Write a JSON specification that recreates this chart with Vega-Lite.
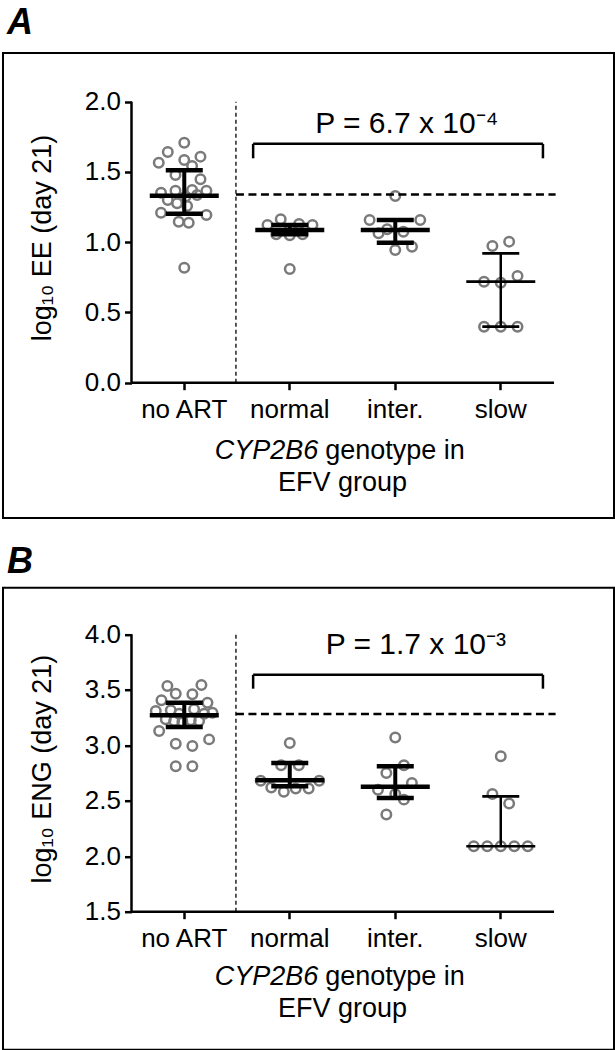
{
  "$schema": "https://vega.github.io/schema/vega-lite/v6.json",
  "padding": {"left": 2, "right": 2, "top": 3, "bottom": 1},
  "background": "white",
  "spacing": 23.7,
  "config": {
    "font": "Liberation Sans",
    "view": {"stroke": "black", "strokeWidth": 2},
    "axis": {"grid": false, "domain": false, "tickColor": "black", "tickWidth": 2.5, "tickSize": 7, "labelColor": "black", "labelFontSize": 26, "labelFont": "Liberation Sans"},
    "text": {"color": "black", "font": "Liberation Sans"}
  },
  "datasets": {
    "ptsA": [
      {"g": "no ART", "v": 1.708, "s": 0}, {"g": "no ART", "v": 1.642, "s": -1.22}, {"g": "no ART", "v": 1.609, "s": 1.2},
      {"g": "no ART", "v": 1.566, "s": -1.89}, {"g": "no ART", "v": 1.585, "s": 0}, {"g": "no ART", "v": 1.542, "s": 0.58},
      {"g": "no ART", "v": 1.478, "s": -0.65}, {"g": "no ART", "v": 1.448, "s": 1.2}, {"g": "no ART", "v": 1.352, "s": -1.72},
      {"g": "no ART", "v": 1.367, "s": -0.65}, {"g": "no ART", "v": 1.372, "s": 0.58}, {"g": "no ART", "v": 1.367, "s": 1.64},
      {"g": "no ART", "v": 1.336, "s": 0.95}, {"g": "no ART", "v": 1.3, "s": -1.22}, {"g": "no ART", "v": 1.277, "s": -0.53},
      {"g": "no ART", "v": 1.258, "s": 0.21}, {"g": "no ART", "v": 1.21, "s": -1.72}, {"g": "no ART", "v": 1.194, "s": 1.64},
      {"g": "no ART", "v": 1.146, "s": -0.41}, {"g": "no ART", "v": 1.139, "s": 0.33}, {"g": "no ART", "v": 0.818, "s": 0},
      {"g": "no ART", "v": 1.325, "s": 0.1},
      {"g": "normal", "v": 1.122, "s": -1.65}, {"g": "normal", "v": 1.163, "s": -0.67}, {"g": "normal", "v": 1.13, "s": 0.69},
      {"g": "normal", "v": 1.122, "s": 1.68}, {"g": "normal", "v": 1.056, "s": -1.0}, {"g": "normal", "v": 1.049, "s": 0},
      {"g": "normal", "v": 1.056, "s": 0.95}, {"g": "normal", "v": 1.09, "s": 0}, {"g": "normal", "v": 0.809, "s": 0},
      {"g": "inter.", "v": 1.329, "s": 0}, {"g": "inter.", "v": 1.158, "s": -1.9}, {"g": "inter.", "v": 1.158, "s": 1.85},
      {"g": "inter.", "v": 1.092, "s": -0.6}, {"g": "inter.", "v": 1.063, "s": -1.24}, {"g": "inter.", "v": 1.075, "s": 0.6},
      {"g": "inter.", "v": 0.944, "s": 0}, {"g": "inter.", "v": 0.968, "s": 1.24},
      {"g": "slow", "v": 0.973, "s": -0.62}, {"g": "slow", "v": 1.004, "s": 0.62}, {"g": "slow", "v": 0.719, "s": -1.24},
      {"g": "slow", "v": 0.712, "s": 0}, {"g": "slow", "v": 0.759, "s": 1.24}, {"g": "slow", "v": 0.399, "s": -1.24},
      {"g": "slow", "v": 0.399, "s": 0}, {"g": "slow", "v": 0.399, "s": 1.24}
    ],
    "sumA": [
      {"g": "no ART", "med": 1.33, "q1": 1.203, "q3": 1.512},
      {"g": "normal", "med": 1.087, "q1": 1.056, "q3": 1.122},
      {"g": "inter.", "med": 1.087, "q1": 0.996, "q3": 1.158},
      {"g": "slow", "med": 0.719, "q1": 0.399, "q3": 0.921}
    ],
    "ptsB": [
      {"g": "no ART", "v": 3.534, "s": -1.25}, {"g": "no ART", "v": 3.543, "s": 1.27}, {"g": "no ART", "v": 3.465, "s": -0.63},
      {"g": "no ART", "v": 3.459, "s": 0.6}, {"g": "no ART", "v": 3.405, "s": -1.69}, {"g": "no ART", "v": 3.384, "s": 1.72},
      {"g": "no ART", "v": 3.309, "s": -2.11}, {"g": "no ART", "v": 3.294, "s": 2.09}, {"g": "no ART", "v": 3.315, "s": -1.0},
      {"g": "no ART", "v": 3.324, "s": 0.73}, {"g": "no ART", "v": 3.285, "s": -0.38}, {"g": "no ART", "v": 3.285, "s": 1.47},
      {"g": "no ART", "v": 3.234, "s": -1.37}, {"g": "no ART", "v": 3.219, "s": -0.75}, {"g": "no ART", "v": 3.213, "s": -0.14},
      {"g": "no ART", "v": 3.225, "s": 0.48}, {"g": "no ART", "v": 3.219, "s": 1.1}, {"g": "no ART", "v": 3.129, "s": -1.86},
      {"g": "no ART", "v": 3.053, "s": 1.84}, {"g": "no ART", "v": 3.014, "s": -0.63}, {"g": "no ART", "v": 2.993, "s": 0.6},
      {"g": "no ART", "v": 2.81, "s": -0.63}, {"g": "no ART", "v": 2.81, "s": 0.6},
      {"g": "normal", "v": 3.02, "s": 0}, {"g": "normal", "v": 2.82, "s": -0.64}, {"g": "normal", "v": 2.82, "s": 0.67},
      {"g": "normal", "v": 2.68, "s": -2.15}, {"g": "normal", "v": 2.68, "s": 2.18}, {"g": "normal", "v": 2.62, "s": -1.37},
      {"g": "normal", "v": 2.58, "s": -0.44}, {"g": "normal", "v": 2.61, "s": 0.44}, {"g": "normal", "v": 2.61, "s": 1.4},
      {"g": "inter.", "v": 3.07, "s": 0}, {"g": "inter.", "v": 2.82, "s": 0.64}, {"g": "inter.", "v": 2.75, "s": -0.66},
      {"g": "inter.", "v": 2.66, "s": 1.23}, {"g": "inter.", "v": 2.6, "s": -1.28}, {"g": "inter.", "v": 2.56, "s": 0},
      {"g": "inter.", "v": 2.51, "s": 0.64}, {"g": "inter.", "v": 2.375, "s": -0.66},
      {"g": "slow", "v": 2.9, "s": 0}, {"g": "slow", "v": 2.56, "s": -0.62}, {"g": "slow", "v": 2.475, "s": 0.62},
      {"g": "slow", "v": 2.09, "s": -2}, {"g": "slow", "v": 2.09, "s": -1}, {"g": "slow", "v": 2.09, "s": 0},
      {"g": "slow", "v": 2.09, "s": 1}, {"g": "slow", "v": 2.09, "s": 2}
    ],
    "sumB": [
      {"g": "no ART", "med": 3.27, "q1": 3.165, "q3": 3.384},
      {"g": "normal", "med": 2.685, "q1": 2.63, "q3": 2.84},
      {"g": "inter.", "med": 2.625, "q1": 2.525, "q3": 2.81},
      {"g": "slow", "med": 2.09, "q1": 2.09, "q3": 2.54}
    ]
  },
  "vconcat": [
    {
      "width": 611, "height": 465,
      "title": {"text": "A", "anchor": "start", "fontSize": 36, "fontWeight": "bold", "fontStyle": "italic", "offset": -16.6, "baseline": "alphabetic", "dx": 4, "color": "black"},
      "resolve": {"scale": {"x": "independent"}},
      "layer": [
        {
          "layer": [
            {
              "data": {"name": "ptsA"},
              "mark": {"type": "point", "shape": "circle", "filled": false, "size": 90, "strokeWidth": 2.5, "color": "#7a7a7a", "opacity": 1},
              "encoding": {
                "x": {"field": "g", "type": "nominal", "title": null, "scale": {"domain": ["no ART", "normal", "inter.", "slow"], "paddingInner": 0, "paddingOuter": 0.8957, "align": 0.68, "round": false}, "axis": {"offset": -135.3, "labelAngle": 0, "labelPadding": 7, "title": null}},
                "xOffset": {"field": "s", "type": "quantitative", "scale": {"domain": [-3.907, 3.907]}},
                "y": {"field": "v", "type": "quantitative", "title": null, "scale": {"domain": [-0.963, 2.3466], "nice": false, "zero": false}, "axis": {"values": [0, 0.5, 1, 1.5, 2], "format": ".1f", "offset": -128.5, "labelPadding": 4, "title": null}}
              }
            },
            {
              "data": {"name": "sumA"},
              "transform": [{"filter": "datum.g !== 'slow'"}],
              "encoding": {
                "x": {"field": "g", "type": "nominal", "title": null, "scale": {"domain": ["no ART", "normal", "inter.", "slow"], "paddingInner": 0, "paddingOuter": 0.8957, "align": 0.68, "round": false}}
              },
              "layer": [
                {"mark": {"type": "rule", "color": "black", "strokeWidth": 4}, "encoding": {"y": {"field": "q1", "type": "quantitative", "title": null, "scale": {"domain": [-0.963, 2.3466], "nice": false, "zero": false}}, "y2": {"field": "q3"}}},
                {"mark": {"type": "tick", "color": "black", "size": 69, "thickness": 4.5, "opacity": 1}, "encoding": {"y": {"field": "med", "type": "quantitative", "title": null, "scale": {"domain": [-0.963, 2.3466], "nice": false, "zero": false}}}},
                {"mark": {"type": "tick", "color": "black", "size": 37, "thickness": 4.5, "opacity": 1}, "encoding": {"y": {"field": "q1", "type": "quantitative", "title": null, "scale": {"domain": [-0.963, 2.3466], "nice": false, "zero": false}}}},
                {"mark": {"type": "tick", "color": "black", "size": 37, "thickness": 4.5, "opacity": 1}, "encoding": {"y": {"field": "q3", "type": "quantitative", "title": null, "scale": {"domain": [-0.963, 2.3466], "nice": false, "zero": false}}}}
              ]
            },
            {
              "data": {"name": "sumA"},
              "transform": [{"filter": "datum.g === 'slow'"}],
              "encoding": {
                "x": {"field": "g", "type": "nominal", "title": null, "scale": {"domain": ["no ART", "normal", "inter.", "slow"], "paddingInner": 0, "paddingOuter": 0.8957, "align": 0.68, "round": false}}
              },
              "layer": [
                {"mark": {"type": "rule", "color": "black", "strokeWidth": 2.5}, "encoding": {"y": {"field": "q1", "type": "quantitative", "title": null, "scale": {"domain": [-0.963, 2.3466], "nice": false, "zero": false}}, "y2": {"field": "q3"}}},
                {"mark": {"type": "tick", "color": "black", "size": 69, "thickness": 2.7, "opacity": 1}, "encoding": {"y": {"field": "med", "type": "quantitative", "title": null, "scale": {"domain": [-0.963, 2.3466], "nice": false, "zero": false}}}},
                {"mark": {"type": "tick", "color": "black", "size": 37, "thickness": 2.7, "opacity": 1}, "encoding": {"y": {"field": "q1", "type": "quantitative", "title": null, "scale": {"domain": [-0.963, 2.3466], "nice": false, "zero": false}}}},
                {"mark": {"type": "tick", "color": "black", "size": 37, "thickness": 2.7, "opacity": 1}, "encoding": {"y": {"field": "q3", "type": "quantitative", "title": null, "scale": {"domain": [-0.963, 2.3466], "nice": false, "zero": false}}}}
              ]
            }
          ]
        },
        {
          "data": {"values": [{}]},
          "layer": [
            {"mark": {"type": "rule", "color": "black", "strokeWidth": 2.5}, "encoding": {"x": {"datum": 0, "type": "quantitative", "scale": {"domain": [-1.218, 4.5735], "nice": false, "zero": false}, "axis": null}, "y": {"datum": 0, "type": "quantitative", "scale": {"domain": [-0.963, 2.3466], "nice": false, "zero": false}}, "y2": {"datum": 2}}},
            {"mark": {"type": "rule", "color": "black", "strokeWidth": 2.5}, "encoding": {"x": {"datum": 0, "type": "quantitative", "scale": {"domain": [-1.218, 4.5735], "nice": false, "zero": false}, "axis": null}, "x2": {"datum": 4.005}, "y": {"datum": 0, "type": "quantitative", "scale": {"domain": [-0.963, 2.3466], "nice": false, "zero": false}}}},
            {"mark": {"type": "rule", "color": "black", "strokeWidth": 1.3, "strokeDash": [4, 3]}, "encoding": {"x": {"datum": 0.99, "type": "quantitative", "scale": {"domain": [-1.218, 4.5735], "nice": false, "zero": false}, "axis": null}, "y": {"datum": 0, "type": "quantitative", "scale": {"domain": [-0.963, 2.3466], "nice": false, "zero": false}}, "y2": {"datum": 2}}},
            {"mark": {"type": "rule", "color": "black", "strokeWidth": 2.5, "strokeDash": [8, 4.5]}, "encoding": {"x": {"datum": 0.99, "type": "quantitative", "scale": {"domain": [-1.218, 4.5735], "nice": false, "zero": false}, "axis": null}, "x2": {"datum": 4.02}, "y": {"datum": 1.34, "type": "quantitative", "scale": {"domain": [-0.963, 2.3466], "nice": false, "zero": false}}}},
            {"mark": {"type": "rule", "color": "black", "strokeWidth": 2.5}, "encoding": {"x": {"datum": 1.153, "type": "quantitative", "scale": {"domain": [-1.218, 4.5735], "nice": false, "zero": false}, "axis": null}, "x2": {"datum": 3.9}, "y": {"datum": 1.7, "type": "quantitative", "scale": {"domain": [-0.963, 2.3466], "nice": false, "zero": false}}}},
            {"mark": {"type": "rule", "color": "black", "strokeWidth": 2.5}, "encoding": {"x": {"datum": 1.153, "type": "quantitative", "scale": {"domain": [-1.218, 4.5735], "nice": false, "zero": false}, "axis": null}, "y": {"datum": 1.597, "type": "quantitative", "scale": {"domain": [-0.963, 2.3466], "nice": false, "zero": false}}, "y2": {"datum": 1.7}}},
            {"mark": {"type": "rule", "color": "black", "strokeWidth": 2.5}, "encoding": {"x": {"datum": 3.9, "type": "quantitative", "scale": {"domain": [-1.218, 4.5735], "nice": false, "zero": false}, "axis": null}, "y": {"datum": 1.597, "type": "quantitative", "scale": {"domain": [-0.963, 2.3466], "nice": false, "zero": false}}, "y2": {"datum": 1.7}}},
            {"mark": {"type": "text", "text": "P = 6.7 x 10⁻⁴", "fontSize": 30, "align": "center", "baseline": "alphabetic"}, "encoding": {"x": {"datum": 2.61, "type": "quantitative", "scale": {"domain": [-1.218, 4.5735], "nice": false, "zero": false}, "axis": null}, "y": {"datum": 1.775, "type": "quantitative", "scale": {"domain": [-0.963, 2.3466], "nice": false, "zero": false}}}},
            {"mark": {"type": "text", "text": "log₁₀ EE (day 21)", "fontSize": 27, "angle": 270, "align": "center", "baseline": "middle"}, "encoding": {"x": {"datum": -0.84, "type": "quantitative", "scale": {"domain": [-1.218, 4.5735], "nice": false, "zero": false}, "axis": null}, "y": {"datum": 1.03, "type": "quantitative", "scale": {"domain": [-0.963, 2.3466], "nice": false, "zero": false}}}},
            {"mark": {"type": "text", "text": "CYP2B6", "fontSize": 27, "fontStyle": "italic", "align": "right", "baseline": "alphabetic"}, "encoding": {"x": {"datum": 1.77, "type": "quantitative", "scale": {"domain": [-1.218, 4.5735], "nice": false, "zero": false}, "axis": null}, "y": {"datum": -0.54, "type": "quantitative", "scale": {"domain": [-0.963, 2.3466], "nice": false, "zero": false}}}},
            {"mark": {"type": "text", "text": "genotype in", "fontSize": 27, "align": "left", "baseline": "alphabetic", "dx": 7}, "encoding": {"x": {"datum": 1.77, "type": "quantitative", "scale": {"domain": [-1.218, 4.5735], "nice": false, "zero": false}, "axis": null}, "y": {"datum": -0.54, "type": "quantitative", "scale": {"domain": [-0.963, 2.3466], "nice": false, "zero": false}}}},
            {"mark": {"type": "text", "text": "EFV group", "fontSize": 27, "align": "center", "baseline": "alphabetic"}, "encoding": {"x": {"datum": 2.0, "type": "quantitative", "scale": {"domain": [-1.218, 4.5735], "nice": false, "zero": false}, "axis": null}, "y": {"datum": -0.774, "type": "quantitative", "scale": {"domain": [-0.963, 2.3466], "nice": false, "zero": false}}}}
          ]
        }
      ]
    },
    {
      "width": 611, "height": 462,
      "title": {"text": "B", "anchor": "start", "fontSize": 36, "fontWeight": "bold", "fontStyle": "italic", "offset": -21, "baseline": "alphabetic", "dx": 4, "color": "black"},
      "resolve": {"scale": {"x": "independent"}},
      "layer": [
        {
          "layer": [
            {
              "data": {"name": "ptsB"},
              "mark": {"type": "point", "shape": "circle", "filled": false, "size": 90, "strokeWidth": 2.5, "color": "#7a7a7a", "opacity": 1},
              "encoding": {
                "x": {"field": "g", "type": "nominal", "title": null, "scale": {"domain": ["no ART", "normal", "inter.", "slow"], "paddingInner": 0, "paddingOuter": 0.8957, "align": 0.68, "round": false}, "axis": {"offset": -138, "labelAngle": 0, "labelPadding": 7, "title": null}},
                "xOffset": {"field": "s", "type": "quantitative", "scale": {"domain": [-3.907, 3.907]}},
                "y": {"field": "v", "type": "quantitative", "title": null, "scale": {"domain": [0.2563, 4.42], "nice": false, "zero": false}, "axis": {"values": [1.5, 2, 2.5, 3, 3.5, 4], "format": ".1f", "offset": -128.5, "labelPadding": 4, "title": null}}
              }
            },
            {
              "data": {"name": "sumB"},
              "transform": [{"filter": "datum.g !== 'slow'"}],
              "encoding": {
                "x": {"field": "g", "type": "nominal", "title": null, "scale": {"domain": ["no ART", "normal", "inter.", "slow"], "paddingInner": 0, "paddingOuter": 0.8957, "align": 0.68, "round": false}}
              },
              "layer": [
                {"mark": {"type": "rule", "color": "black", "strokeWidth": 4}, "encoding": {"y": {"field": "q1", "type": "quantitative", "title": null, "scale": {"domain": [0.2563, 4.42], "nice": false, "zero": false}}, "y2": {"field": "q3"}}},
                {"mark": {"type": "tick", "color": "black", "size": 69, "thickness": 4.5, "opacity": 1}, "encoding": {"y": {"field": "med", "type": "quantitative", "title": null, "scale": {"domain": [0.2563, 4.42], "nice": false, "zero": false}}}},
                {"mark": {"type": "tick", "color": "black", "size": 37, "thickness": 4.5, "opacity": 1}, "encoding": {"y": {"field": "q1", "type": "quantitative", "title": null, "scale": {"domain": [0.2563, 4.42], "nice": false, "zero": false}}}},
                {"mark": {"type": "tick", "color": "black", "size": 37, "thickness": 4.5, "opacity": 1}, "encoding": {"y": {"field": "q3", "type": "quantitative", "title": null, "scale": {"domain": [0.2563, 4.42], "nice": false, "zero": false}}}}
              ]
            },
            {
              "data": {"name": "sumB"},
              "transform": [{"filter": "datum.g === 'slow'"}],
              "encoding": {
                "x": {"field": "g", "type": "nominal", "title": null, "scale": {"domain": ["no ART", "normal", "inter.", "slow"], "paddingInner": 0, "paddingOuter": 0.8957, "align": 0.68, "round": false}}
              },
              "layer": [
                {"mark": {"type": "rule", "color": "black", "strokeWidth": 2.5}, "encoding": {"y": {"field": "q1", "type": "quantitative", "title": null, "scale": {"domain": [0.2563, 4.42], "nice": false, "zero": false}}, "y2": {"field": "q3"}}},
                {"mark": {"type": "tick", "color": "black", "size": 69, "thickness": 2.7, "opacity": 1}, "encoding": {"y": {"field": "med", "type": "quantitative", "title": null, "scale": {"domain": [0.2563, 4.42], "nice": false, "zero": false}}}},
                {"mark": {"type": "tick", "color": "black", "size": 37, "thickness": 2.7, "opacity": 1}, "encoding": {"y": {"field": "q3", "type": "quantitative", "title": null, "scale": {"domain": [0.2563, 4.42], "nice": false, "zero": false}}}}
              ]
            }
          ]
        },
        {
          "data": {"values": [{}]},
          "layer": [
            {"mark": {"type": "rule", "color": "black", "strokeWidth": 2.5}, "encoding": {"x": {"datum": 0, "type": "quantitative", "scale": {"domain": [-1.218, 4.5735], "nice": false, "zero": false}, "axis": null}, "y": {"datum": 1.5, "type": "quantitative", "scale": {"domain": [0.2563, 4.42], "nice": false, "zero": false}}, "y2": {"datum": 4}}},
            {"mark": {"type": "rule", "color": "black", "strokeWidth": 2.5}, "encoding": {"x": {"datum": 0, "type": "quantitative", "scale": {"domain": [-1.218, 4.5735], "nice": false, "zero": false}, "axis": null}, "x2": {"datum": 4.005}, "y": {"datum": 1.5, "type": "quantitative", "scale": {"domain": [0.2563, 4.42], "nice": false, "zero": false}}}},
            {"mark": {"type": "rule", "color": "black", "strokeWidth": 1.3, "strokeDash": [4, 3]}, "encoding": {"x": {"datum": 0.99, "type": "quantitative", "scale": {"domain": [-1.218, 4.5735], "nice": false, "zero": false}, "axis": null}, "y": {"datum": 1.5, "type": "quantitative", "scale": {"domain": [0.2563, 4.42], "nice": false, "zero": false}}, "y2": {"datum": 4}}},
            {"mark": {"type": "rule", "color": "black", "strokeWidth": 2.5, "strokeDash": [8, 4.5]}, "encoding": {"x": {"datum": 0.99, "type": "quantitative", "scale": {"domain": [-1.218, 4.5735], "nice": false, "zero": false}, "axis": null}, "x2": {"datum": 4.02}, "y": {"datum": 3.282, "type": "quantitative", "scale": {"domain": [0.2563, 4.42], "nice": false, "zero": false}}}},
            {"mark": {"type": "rule", "color": "black", "strokeWidth": 2.5}, "encoding": {"x": {"datum": 1.153, "type": "quantitative", "scale": {"domain": [-1.218, 4.5735], "nice": false, "zero": false}, "axis": null}, "x2": {"datum": 3.9}, "y": {"datum": 3.635, "type": "quantitative", "scale": {"domain": [0.2563, 4.42], "nice": false, "zero": false}}}},
            {"mark": {"type": "rule", "color": "black", "strokeWidth": 2.5}, "encoding": {"x": {"datum": 1.153, "type": "quantitative", "scale": {"domain": [-1.218, 4.5735], "nice": false, "zero": false}, "axis": null}, "y": {"datum": 3.51, "type": "quantitative", "scale": {"domain": [0.2563, 4.42], "nice": false, "zero": false}}, "y2": {"datum": 3.635}}},
            {"mark": {"type": "rule", "color": "black", "strokeWidth": 2.5}, "encoding": {"x": {"datum": 3.9, "type": "quantitative", "scale": {"domain": [-1.218, 4.5735], "nice": false, "zero": false}, "axis": null}, "y": {"datum": 3.51, "type": "quantitative", "scale": {"domain": [0.2563, 4.42], "nice": false, "zero": false}}, "y2": {"datum": 3.635}}},
            {"mark": {"type": "text", "text": "P = 1.7 x 10⁻³", "fontSize": 30, "align": "center", "baseline": "alphabetic"}, "encoding": {"x": {"datum": 2.695, "type": "quantitative", "scale": {"domain": [-1.218, 4.5735], "nice": false, "zero": false}, "axis": null}, "y": {"datum": 3.826, "type": "quantitative", "scale": {"domain": [0.2563, 4.42], "nice": false, "zero": false}}}},
            {"mark": {"type": "text", "text": "log₁₀ ENG (day 21)", "fontSize": 27, "angle": 270, "align": "center", "baseline": "middle"}, "encoding": {"x": {"datum": -0.84, "type": "quantitative", "scale": {"domain": [-1.218, 4.5735], "nice": false, "zero": false}, "axis": null}, "y": {"datum": 2.785, "type": "quantitative", "scale": {"domain": [0.2563, 4.42], "nice": false, "zero": false}}}},
            {"mark": {"type": "text", "text": "CYP2B6", "fontSize": 27, "fontStyle": "italic", "align": "right", "baseline": "alphabetic"}, "encoding": {"x": {"datum": 1.77, "type": "quantitative", "scale": {"domain": [-1.218, 4.5735], "nice": false, "zero": false}, "axis": null}, "y": {"datum": 0.84, "type": "quantitative", "scale": {"domain": [0.2563, 4.42], "nice": false, "zero": false}}}},
            {"mark": {"type": "text", "text": "genotype in", "fontSize": 27, "align": "left", "baseline": "alphabetic", "dx": 7}, "encoding": {"x": {"datum": 1.77, "type": "quantitative", "scale": {"domain": [-1.218, 4.5735], "nice": false, "zero": false}, "axis": null}, "y": {"datum": 0.84, "type": "quantitative", "scale": {"domain": [0.2563, 4.42], "nice": false, "zero": false}}}},
            {"mark": {"type": "text", "text": "EFV group", "fontSize": 27, "align": "center", "baseline": "alphabetic"}, "encoding": {"x": {"datum": 2.0, "type": "quantitative", "scale": {"domain": [-1.218, 4.5735], "nice": false, "zero": false}, "axis": null}, "y": {"datum": 0.55, "type": "quantitative", "scale": {"domain": [0.2563, 4.42], "nice": false, "zero": false}}}}
          ]
        }
      ]
    }
  ]
}
